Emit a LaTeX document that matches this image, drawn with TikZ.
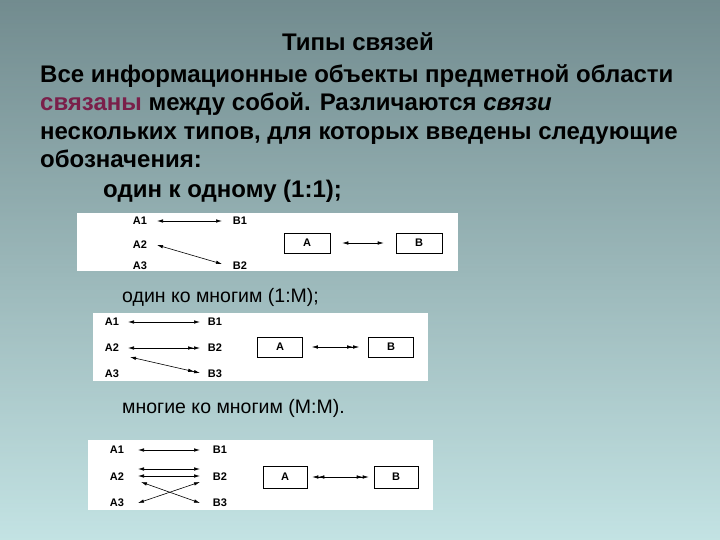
\documentclass[tikz,border=0pt]{standalone}
\usepackage{fontspec}
\setmainfont{Liberation Sans}
\usetikzlibrary{arrows.meta}
\definecolor{mag}{HTML}{7A1F4A}
\definecolor{bgl}{HTML}{5A787C}
\definecolor{bgr}{HTML}{D6F6F6}
\begin{document}
\begin{tikzpicture}[x=1pt,y=-1pt,
  lbl/.style={font=\fontsize{11}{12}\selectfont\bfseries,inner sep=0},
  bx/.style={draw,semithick,fill=white,minimum height=20pt,inner sep=0,font=\fontsize{11}{12}\selectfont\bfseries},
  la/.style={semithick,{Latex[length=6pt,width=3.5pt]}-{Latex[length=6pt,width=3.5pt]}},
  lb/.style={semithick,{Latex[length=6pt,width=3.5pt]}-{Latex[length=6pt,width=3.5pt]Latex[length=6pt,width=3.5pt]}},
  lc/.style={semithick,{Latex[length=6pt,width=3.5pt]Latex[length=6pt,width=3.5pt]}-{Latex[length=6pt,width=3.5pt]Latex[length=6pt,width=3.5pt]}},
  txt/.style={anchor=west,inner sep=0,text height=15pt,text depth=4pt,font=\fontsize{19.5}{22}\selectfont},
  btxt/.style={anchor=west,inner sep=0,text height=17pt,text depth=5pt,font=\fontsize{24}{26}\selectfont\bfseries}]
\useasboundingbox (0,0) rectangle (720,540);
\shade[left color=bgl, right color=bgr, shading angle=0] (0,0) rectangle (720,540);
\shade[top color=white, bottom color=bgl, opacity=0.15] (0,0) rectangle (720,540);
\node[btxt,anchor=center] (t) at (358,45) {Типы связей};
\node[btxt] (l1) at (40,77) {Все информационные объекты предметной области};
\node[btxt] (l2) at (40,105) {\textcolor{mag}{связаны} между собой. Различаются \textit{связи}};
\node[btxt] (l3) at (40,134) {нескольких типов, для которых введены следующие};
\node[btxt] (l4) at (40,162) {обозначения:};
\node[btxt] (l5) at (103,192) {один к одному (1:1);};
\node[txt] (l6) at (122,297) {один ко многим (1:М);};
\node[txt] (l7) at (122,408) {многие ко многим (М:М).};
% diagram 1
\fill[white] (77,213) rectangle (458,271);
\node[lbl] (a1) at (140,221) {A1}; \node[lbl] (b1) at (240,221) {B1};
\node[lbl] (a2) at (140,245) {A2}; \node[lbl] (a3) at (140,266) {A3};
\node[lbl] (b2) at (240,266) {B2};
\draw[la] (157,221) -- (222,221);
\draw[la] (157,245) -- (222,264);
\node[bx,minimum width=46pt] (A) at (307,243) {A};
\node[bx,minimum width=46pt] (B) at (419,243) {B};
\draw[la] ([xshift=12pt]A.east) -- ([xshift=-12pt]B.west);
% diagram 2
\fill[white] (93,313) rectangle (428,381);
\node[lbl] (c1) at (112,322) {A1}; \node[lbl] (d1) at (215,322) {B1};
\node[lbl] (c2) at (112,348) {A2}; \node[lbl] (d2) at (215,348) {B2};
\node[lbl] (c3) at (112,374) {A3}; \node[lbl] (d3) at (215,374) {B3};
\draw[la] (128,322) -- (200,322);
\draw[lb] (128,348) -- (200,348);
\draw[lb] (130,357) -- (200,373);
\node[bx,minimum width=45pt] (A2b) at (280,347) {A};
\node[bx,minimum width=45pt] (B2b) at (391,347) {B};
\draw[lb] ([xshift=9pt]A2b.east) -- ([xshift=-9pt]B2b.west);
% diagram 3
\fill[white] (88,440) rectangle (433,510);
\node[lbl] (e1) at (117,450) {A1}; \node[lbl] (f1) at (220,450) {B1};
\node[lbl] (e2) at (117,477) {A2}; \node[lbl] (f2) at (220,477) {B2};
\node[lbl] (e3) at (117,503) {A3}; \node[lbl] (f3) at (220,503) {B3};
\draw[la] (138,450) -- (200,450);
\draw[la] (138,469) -- (200,469);
\draw[la] (138,476) -- (200,476);
\draw[la] (141,482) -- (200,503);
\draw[la] (138,503) -- (200,482);
\node[bx,minimum width=44pt,minimum height=22pt] (A3b) at (285,477) {A};
\node[bx,minimum width=44pt,minimum height=22pt] (B3b) at (396,477) {B};
\draw[lc] ([xshift=5pt]A3b.east) -- ([xshift=-5pt]B3b.west);
\end{tikzpicture}
\end{document}
